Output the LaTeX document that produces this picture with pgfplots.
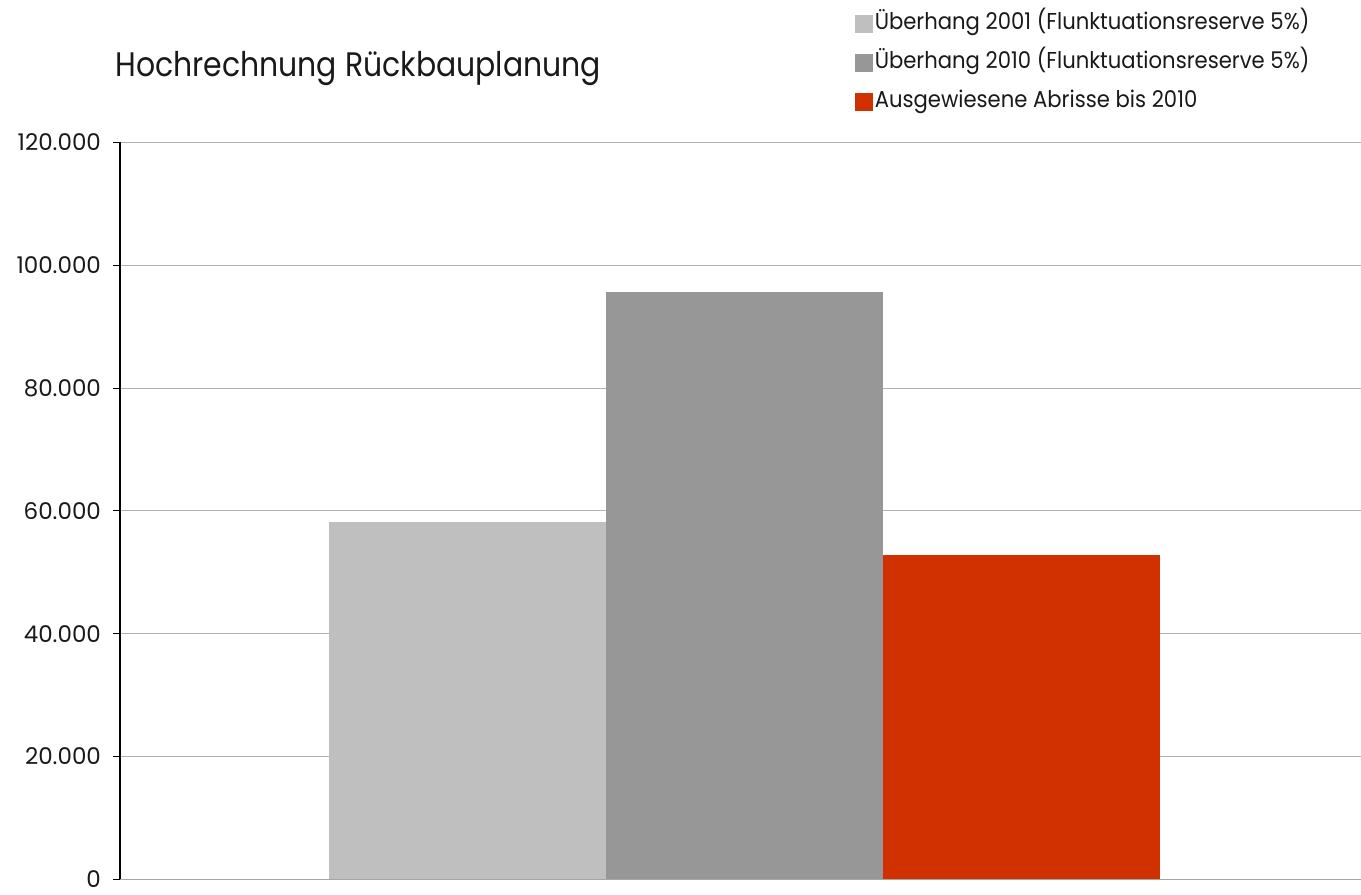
\documentclass[border=0pt]{standalone}
\usepackage{pgfplots}
\pgfplotsset{compat=1.18}
\usepackage{fontspec}
\setmainfont{Poppins}
\newfontfamily\titlefont{Poppins}[FakeStretch=0.88]
\newfontfamily\legendfont{Poppins}[FakeStretch=0.92]
\definecolor{lightbar}{RGB}{191,191,191}
\definecolor{darkbar}{RGB}{151,151,151}
\definecolor{redbar}{RGB}{209,49,0}
\definecolor{txt}{RGB}{25,25,25}

\begin{document}
\begin{tikzpicture}
\begin{axis}[
  scale only axis,
  width=620.5pt,
  height=368.5pt,
  xmin=-1, xmax=1,
  ymin=0, ymax=120000,
  ybar=0pt,
  bar width=0.447,
  xtick=\empty,
  ytick={0,20000,40000,60000,80000,100000,120000},
  scaled y ticks=false,
  /pgf/number format/fixed,
  /pgf/number format/1000 sep={.},
  /pgf/number format/assume math mode=true,
  tick label style={font=\fontsize{11.5}{13}\selectfont, text=txt},
  yticklabel style={xshift=-2.5pt},
  axis x line*=bottom,
  axis y line*=left,
  axis line style={-},
  x axis line style={black!35},
  y axis line style={black, line width=0.6pt},
  tick align=outside,
  major tick length=3.5pt,
  ytick style={black, line width=0.5pt},
  ymajorgrids=true,
  grid style={black!30, line width=0.5pt},
  clip=false,
  legend image code/.code={\fill[#1] (0pt,-4.5pt) rectangle (9pt,4.5pt);},
  legend style={
    at={(0.592,1.179)},
    anchor=north west,
    draw=none,
    fill=none,
    inner sep=0pt,
    font=\legendfont\fontsize{11.5}{13}\selectfont,
    text=txt,
    row sep=6.5pt,
    cells={anchor=west},
    nodes={inner sep=1pt, text height=8.5pt, text depth=2.5pt},
    /tikz/every even column/.append style={column sep=0pt},
  },
]
\addplot[fill=lightbar, draw=none, bar shift=-0.447] coordinates {(0.007,58200)};
\addlegendentry{Überhang 2001 (Flunktuationsreserve 5\%)}
\addplot[fill=darkbar, draw=none, bar shift=0] coordinates {(0.007,95700)};
\addlegendentry{Überhang 2010 (Flunktuationsreserve 5\%)}
\addplot[fill=redbar, draw=none, bar shift=0.447] coordinates {(0.007,52800)};
\addlegendentry{Ausgewiesene Abrisse bis 2010}

\node[anchor=base west, inner sep=0pt, font=\titlefont\fontsize{17}{21}\selectfont, text=txt]
  at (axis description cs:-0.004,1.089) {Hochrechnung Rückbauplanung};
\path (axis description cs:-0.0967,-0.0129) rectangle (axis description cs:1,1.1934);
\end{axis}
\end{tikzpicture}
\end{document}
